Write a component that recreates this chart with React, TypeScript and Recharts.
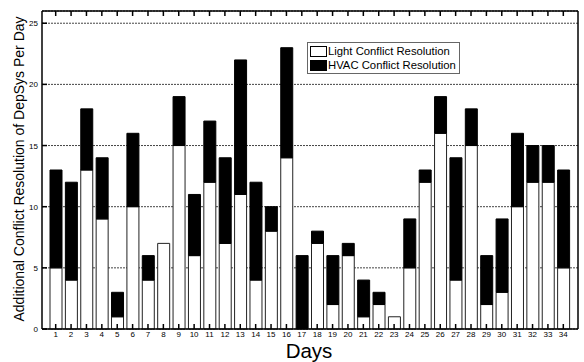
import React from "react";
import { BarChart, Bar, XAxis, YAxis, CartesianGrid } from "recharts";

const days = Array.from({ length: 34 }, (_, i) => String(i + 1));
const lightValues = [5, 4, 13, 9, 1, 10, 4, 7, 15, 6, 12, 7, 11, 4, 8, 14, 0, 7, 2, 6, 1, 2, 1, 5, 12, 16, 4, 15, 2, 3, 10, 12, 12, 5];
const hvacValues = [8, 8, 5, 5, 2, 6, 2, 0, 4, 5, 5, 7, 11, 8, 2, 9, 6, 1, 4, 1, 3, 1, 0, 4, 1, 3, 10, 3, 4, 6, 6, 3, 3, 8];
const yTicks = [0, 5, 10, 15, 20, 25];

const data = days.map((d, i) => ({ day: d, light: lightValues[i], hvac: hvacValues[i] }));

const FONT = "Arial, 'Liberation Sans', sans-serif";

const BottomTick = (props: any) => {
  const { x, y, payload } = props;
  return (
    <g>
      <line x1={x} x2={x} y1={y} y2={y - 5} stroke="#000" strokeWidth={1.5} />
      <text x={x} y={y + 8} textAnchor="middle" fontSize={8} fontFamily={FONT} fill="#000">
        {payload.value}
      </text>
    </g>
  );
};

const TopTick = (props: any) => {
  const { x, y } = props;
  return <line x1={x} x2={x} y1={y} y2={y + 5} stroke="#000" strokeWidth={1.5} />;
};

const LeftTick = (props: any) => {
  const { x, y, payload } = props;
  return (
    <g>
      <line x1={x} x2={x + 5} y1={y} y2={y} stroke="#000" strokeWidth={1.5} />
      <text x={x - 4} y={y + 3} textAnchor="end" fontSize={8} fontFamily={FONT} fill="#000">
        {payload.value}
      </text>
    </g>
  );
};

const RightTick = (props: any) => {
  const { x, y } = props;
  return <line x1={x} x2={x - 5} y1={y} y2={y} stroke="#000" strokeWidth={1.5} />;
};

export default function App() {
  return (
    <div style={{ position: "absolute", left: 0, top: 0, width: 584, height: 362, background: "#fff" }}>
      <BarChart
        width={584}
        height={362}
        data={data}
        margin={{ top: 10, right: 5, bottom: 32, left: 0 }}
        barCategoryGap={0}
      >
        <CartesianGrid vertical={false} stroke="#444" strokeDasharray="2 1" yAxisId="left" xAxisId="bottom" />
        <XAxis
          dataKey="day"
          xAxisId="bottom"
          padding={{ left: 6, right: 7 }}
          tickLine={false}
          tickMargin={0}
          tickSize={0}
          tick={<BottomTick />}
          interval={0}
          axisLine={{ stroke: "#000", strokeWidth: 1.5 }}
          height={1}
        />
        <XAxis
          dataKey="day"
          xAxisId="top"
          orientation="top"
          padding={{ left: 6, right: 7 }}
          tickLine={false}
          tickMargin={0}
          tickSize={0}
          tick={<TopTick />}
          interval={0}
          axisLine={{ stroke: "#000", strokeWidth: 1.5 }}
          height={1}
        />
        <YAxis
          yAxisId="left"
          domain={[0, 26]}
          ticks={yTicks}
          width={42}
          tickLine={false}
          tickSize={0}
          tickMargin={0}
          tick={<LeftTick />}
          interval={0}
          axisLine={{ stroke: "#000", strokeWidth: 1.5 }}
          label={() => (
            <text
              x={19}
              y={169}
              transform="rotate(-90 19 169)"
              textAnchor="middle"
              dominantBaseline="central"
              fontSize={14}
              fontFamily={FONT}
              fill="#000"
            >
              Additional Conflict Resolution of DepSys Per Day
            </text>
          )}
        />
        <YAxis
          yAxisId="right"
          orientation="right"
          domain={[0, 26]}
          ticks={yTicks}
          width={1}
          tickLine={false}
          tickSize={0}
          tickMargin={0}
          tick={<RightTick />}
          interval={0}
          axisLine={{ stroke: "#000", strokeWidth: 1.5 }}
        />
        <Bar dataKey="light" stackId="a" xAxisId="bottom" yAxisId="left" fill="#fff" stroke="#222" strokeWidth={1} barSize={12} isAnimationActive={false} />
        <Bar dataKey="hvac" stackId="a" xAxisId="bottom" yAxisId="left" fill="#000" stroke="#000" strokeWidth={1} barSize={12} isAnimationActive={false} />
      </BarChart>
      <div
        style={{
          position: "absolute",
          left: 307,
          top: 42,
          border: "1px solid #666",
          background: "#fff",
          padding: "1px 3px 1px 2px",
          fontFamily: FONT,
          fontSize: 11.3,
          lineHeight: "14px",
          color: "#000",
          whiteSpace: "nowrap",
        }}
      >
        <div style={{ display: "flex", alignItems: "center" }}>
          <span style={{ display: "inline-block", width: 17, height: 11, border: "1px solid #000", background: "#fff", marginRight: 1, boxSizing: "border-box" }} />
          Light Conflict Resolution
        </div>
        <div style={{ display: "flex", alignItems: "center" }}>
          <span style={{ display: "inline-block", width: 17, height: 11, background: "#000", marginRight: 1 }} />
          HVAC Conflict Resolution
        </div>
      </div>
      <svg width={584} height={362} style={{ position: "absolute", left: 0, top: 0, pointerEvents: "none" }}>
        <text x={309} y={358} textAnchor="middle" fontSize={20.5} fontFamily={FONT} fill="#000">
          Days
        </text>
      </svg>
    </div>
  );
}
